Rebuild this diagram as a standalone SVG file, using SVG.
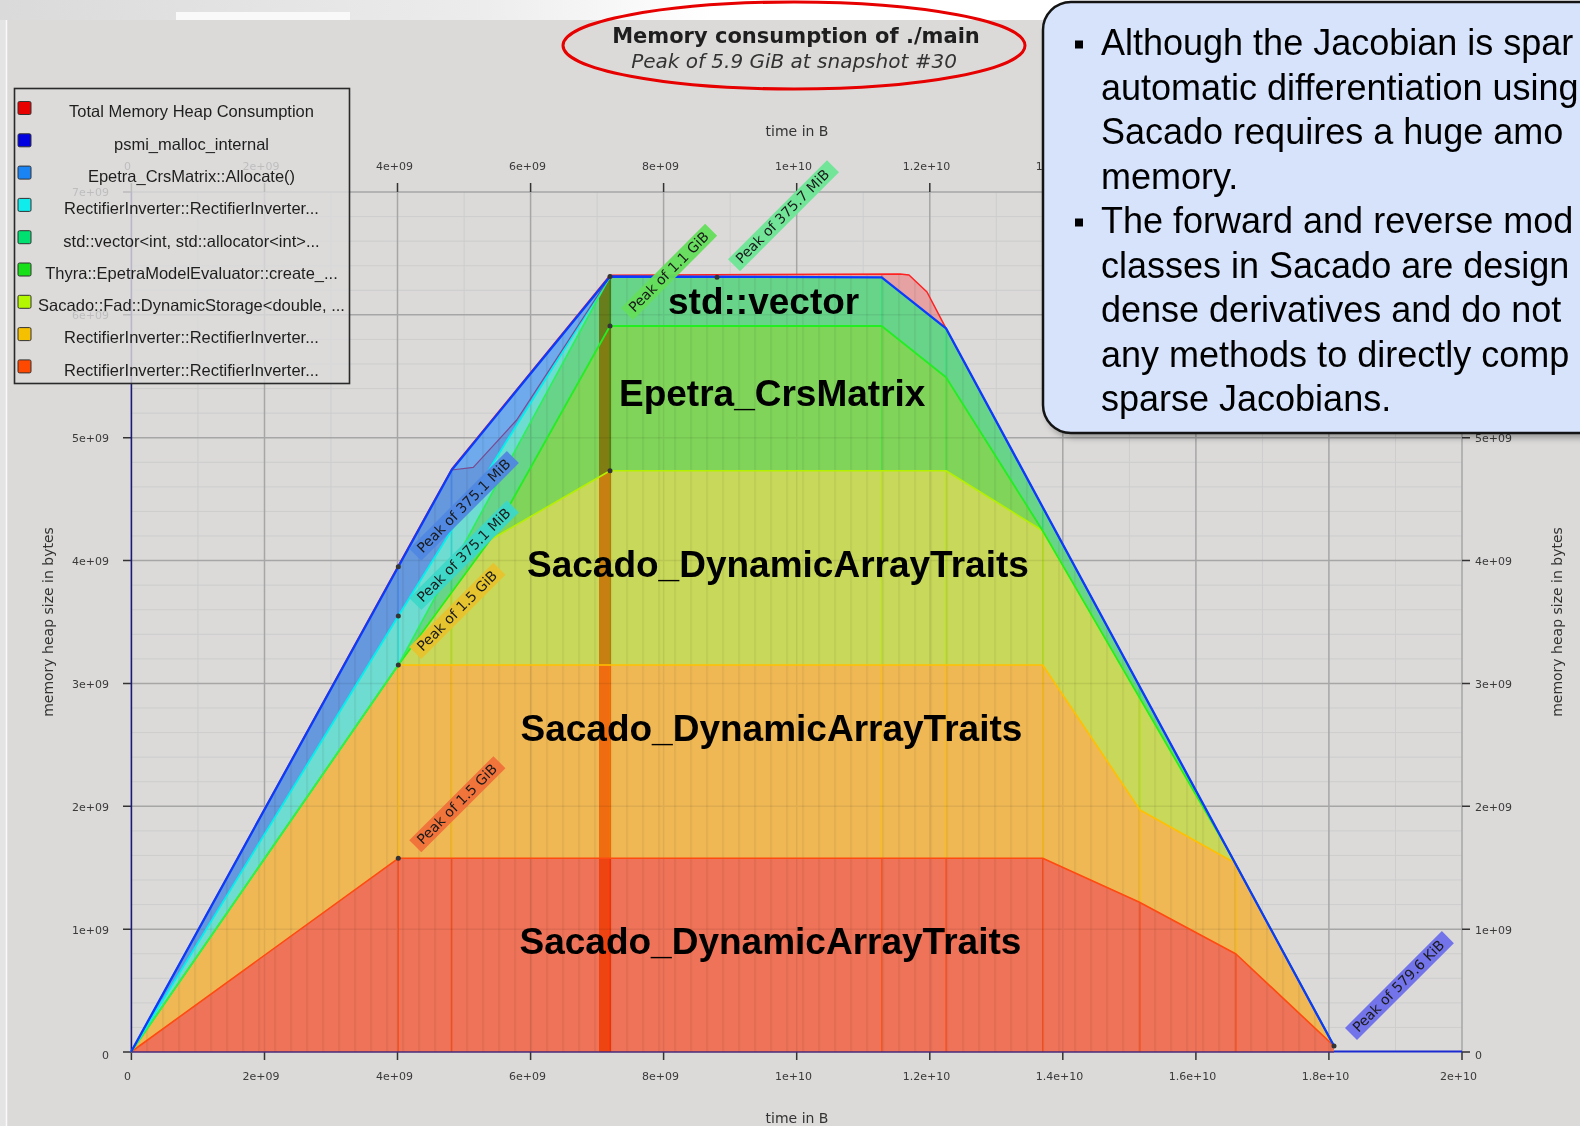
<svg xmlns="http://www.w3.org/2000/svg" xmlns:xlink="http://www.w3.org/1999/xlink" width="1580" height="1126" viewBox="0 0 1580 1126">
<style>
.tl{font-family:'DejaVu Sans',sans-serif;font-size:11px;fill:#3a3a3a}
.tlm{text-anchor:middle}
.tle{text-anchor:end}
.ax{font-family:'DejaVu Sans',sans-serif;font-size:14px;fill:#333}
.lg{font-family:'Liberation Sans',Arial,sans-serif;font-size:16.5px;fill:#1e1e1e;text-anchor:middle}
.big{font-family:'Liberation Sans',Arial,sans-serif;font-weight:bold;font-size:37px;fill:#000}
.pk{font-family:'DejaVu Sans',sans-serif;font-size:14px;fill:#1a1a1a}
.co{font-family:'Liberation Sans',Arial,sans-serif;font-size:36px;fill:#000}
.minor{stroke:#cdcdcd;stroke-width:1;fill:none}
.major{stroke:#a6a6a6;stroke-width:1.5;fill:none}
.tick{stroke:#333;stroke-width:1.5;fill:none}
.ln{fill:none;stroke-linejoin:round}
.sq{stroke:#333;stroke-width:1}
.dot{fill:#333}
</style>
<defs>
<linearGradient id="topg" x1="0" y1="0" x2="1" y2="0">
<stop offset="0" stop-color="#dadada"/>
<stop offset="0.3" stop-color="#ececec"/>
<stop offset="0.45" stop-color="#ffffff"/>
</linearGradient>
<polygon id="a1" points="131,1052 398.3,565.5 451.7,469 610,275.3 900,274 909,275 927,292 946,328.3 1334,1046 1334,1052"/>
<polygon id="a2" points="131,1052 398.3,566.7 451.7,470 610,276.5 881.7,277.3 946,328.3 1334,1046 1334,1052"/>
<polygon id="a3" points="131,1052 398.3,566.7 451.7,470 473.3,467.3 516.7,420 610,276.5 881.7,277.3 946,328.3 1334,1046 1334,1052"/>
<polygon id="a4" points="131,1052 398.3,616 516.7,425 610,276.5 881.7,277.3 946,328.3 1334,1046 1334,1052"/>
<polygon id="a5" points="131,1052 398.3,665 610,276.5 881.7,277.3 946,328.3 1334,1046 1334,1052"/>
<polygon id="a6" points="131,1052 398.3,665 490,540 610,326 881.7,326 946,377.3 1042.7,530.7 1228,850 1334,1046 1334,1052"/>
<polygon id="a7" points="131,1052 398.3,665 490,540 610,470.7 946,470.7 1042.7,530.7 1228,850 1334,1046 1334,1052"/>
<polygon id="a8" points="131,1052 398.3,665 1042.7,665 1140,810 1235,863 1334,1046 1334,1052"/>
<polygon id="a9" points="131,1052 398.3,858.3 1042.7,858.3 1139,902 1236,954 1334,1046 1334,1052"/>
<clipPath id="c1"><use xlink:href="#a1"/></clipPath>
<clipPath id="c2"><use xlink:href="#a2"/></clipPath>
<clipPath id="c3"><use xlink:href="#a3"/></clipPath>
<clipPath id="c4"><use xlink:href="#a4"/></clipPath>
<clipPath id="c5"><use xlink:href="#a5"/></clipPath>
<clipPath id="c6"><use xlink:href="#a6"/></clipPath>
<clipPath id="c7"><use xlink:href="#a7"/></clipPath>
<clipPath id="c8"><use xlink:href="#a8"/></clipPath>
<clipPath id="c9"><use xlink:href="#a9"/></clipPath>
<path id="vl" d="M398.3 192V1052M451.7 192V1052M610 192V1052M881.7 192V1052M946 192V1052M1042.7 192V1052M1140 192V1052M1236 192V1052" fill="none" stroke-width="1.4"/>
<pattern id="stripes" patternUnits="userSpaceOnUse" x="146.25" y="0" width="16" height="20">
<rect x="0" y="0" width="1.5" height="20" fill="#000" fill-opacity="0.07"/>
</pattern>
<filter id="blur" x="-5%" y="-5%" width="110%" height="110%"><feGaussianBlur stdDeviation="3"/></filter>
</defs>

<!-- background -->
<rect x="0" y="0" width="1580" height="1126" fill="#ffffff"/>
<rect x="0" y="0" width="1580" height="20" fill="url(#topg)"/>
<rect x="176" y="12" width="174" height="8" fill="#f9f9f9"/>
<rect x="0" y="20" width="7" height="1106" fill="#e4e4e4"/>
<rect x="7" y="20" width="1573" height="1106" fill="#dbdad9"/>
<line x1="6.5" y1="20" x2="6.5" y2="1126" stroke="#fafafa" stroke-width="1.5"/>

<!-- grid -->
<g id="grid">
<path class="minor" d="M131.4 1027.43H1462M131.4 1002.86H1462M131.4 978.29H1462M131.4 953.71H1462M131.4 904.57H1462M131.4 880H1462M131.4 855.43H1462M131.4 830.86H1462M131.4 781.71H1462M131.4 757.14H1462M131.4 732.57H1462M131.4 708H1462M131.4 658.86H1462M131.4 634.29H1462M131.4 609.71H1462M131.4 585.14H1462M131.4 536H1462M131.4 511.43H1462M131.4 486.86H1462M131.4 462.29H1462M131.4 413.14H1462M131.4 388.57H1462M131.4 364H1462M131.4 339.43H1462M131.4 290.29H1462M131.4 265.71H1462M131.4 241.14H1462M131.4 216.57H1462"/>
<path class="minor" d="M197.9 192V1052M331 192V1052M464.1 192V1052M597.1 192V1052M730.2 192V1052M863.2 192V1052M996.3 192V1052M1129.4 192V1052M1262.4 192V1052M1395.5 192V1052"/>
<path class="major" d="M131.4 929.14H1462M131.4 806.29H1462M131.4 683.43H1462M131.4 560.57H1462M131.4 437.71H1462M131.4 314.86H1462M131.4 192H1462"/>
<path class="major" d="M264.5 192V1052M397.5 192V1052M530.6 192V1052M663.6 192V1052M796.7 192V1052M929.8 192V1052M1062.8 192V1052M1195.9 192V1052M1328.9 192V1052M1462 192V1052"/>
</g>

<!-- axes -->
<g id="axes">
<path class="tick" d="M123 1052H131.4M123 929.14H131.4M123 806.29H131.4M123 683.43H131.4M123 560.57H131.4M123 437.71H131.4M123 314.86H131.4M123 192H131.4"/>
<path class="tick" d="M1462 1052H1470M1462 929.14H1470M1462 806.29H1470M1462 683.43H1470M1462 560.57H1470M1462 437.71H1470"/>
<path class="tick" d="M131.4 1052V1060M264.5 1052V1060M397.5 1052V1060M530.6 1052V1060M663.6 1052V1060M796.7 1052V1060M929.8 1052V1060M1062.8 1052V1060M1195.9 1052V1060M1328.9 1052V1060M1462 1052V1060"/>
<path class="tick" d="M131.4 183V192M264.5 183V192M397.5 183V192M530.6 183V192M663.6 183V192M796.7 183V192M929.8 183V192"/>
<line x1="131.4" y1="192" x2="131.4" y2="1052" stroke="#1a1a78" stroke-width="1.6"/>
<g class="tl tle">
<text x="109" y="1059">0</text>
<text x="109" y="934">1e+09</text>
<text x="109" y="811">2e+09</text>
<text x="109" y="688">3e+09</text>
<text x="109" y="565">4e+09</text>
<text x="109" y="442">5e+09</text>
<text x="109" y="319">6e+09</text>
<text x="109" y="196">7e+09</text>
</g>
<g class="tl">
<text x="1475" y="1059">0</text>
<text x="1475" y="934">1e+09</text>
<text x="1475" y="811">2e+09</text>
<text x="1475" y="688">3e+09</text>
<text x="1475" y="565">4e+09</text>
<text x="1475" y="442">5e+09</text>
</g>
<g class="tl tlm">
<text x="127.5" y="1080">0</text>
<text x="261" y="1080">2e+09</text>
<text x="394.5" y="1080">4e+09</text>
<text x="527.5" y="1080">6e+09</text>
<text x="660.5" y="1080">8e+09</text>
<text x="793.5" y="1080">1e+10</text>
<text x="926.5" y="1080">1.2e+10</text>
<text x="1059.5" y="1080">1.4e+10</text>
<text x="1192.5" y="1080">1.6e+10</text>
<text x="1325.5" y="1080">1.8e+10</text>
<text x="1458.5" y="1080">2e+10</text>
<text x="127.5" y="170">0</text>
<text x="261" y="170">2e+09</text>
<text x="394.5" y="170">4e+09</text>
<text x="527.5" y="170">6e+09</text>
<text x="660.5" y="170">8e+09</text>
<text x="793.5" y="170">1e+10</text>
<text x="926.5" y="170">1.2e+10</text>
<text x="1059.5" y="170">1.4e+10</text>
</g>
<text class="ax" x="797" y="136" text-anchor="middle">time in B</text>
<text class="ax" x="797" y="1123" text-anchor="middle">time in B</text>
<text class="ax" transform="translate(53,622) rotate(-90)" text-anchor="middle">memory heap size in bytes</text>
<text class="ax" transform="translate(1562,622) rotate(-90)" text-anchor="middle">memory heap size in bytes</text>
</g>

<!-- stacked areas -->
<g id="areas">
<use xlink:href="#a1" fill="#e6a2a2"/>
<use xlink:href="#vl" clip-path="url(#c1)" stroke="#ff3030" stroke-opacity="0.5"/>
<use xlink:href="#a2" fill="#6eaaec"/>
<use xlink:href="#vl" clip-path="url(#c2)" stroke="#2040ff" stroke-opacity="0.45"/>
<use xlink:href="#a3" fill="#6598dd"/>
<use xlink:href="#vl" clip-path="url(#c3)" stroke="#3080ff" stroke-opacity="0.5"/>
<use xlink:href="#a4" fill="#6edcd0"/>
<use xlink:href="#vl" clip-path="url(#c4)" stroke="#00e0e0" stroke-opacity="0.6"/>
<use xlink:href="#a5" fill="#68d48a"/>
<use xlink:href="#vl" clip-path="url(#c5)" stroke="#20e070" stroke-opacity="0.6"/>
<use xlink:href="#a6" fill="#80d45a"/>
<use xlink:href="#vl" clip-path="url(#c6)" stroke="#30e030" stroke-opacity="0.6"/>
<use xlink:href="#a7" fill="#c8d85a"/>
<use xlink:href="#vl" clip-path="url(#c7)" stroke="#b0e800" stroke-opacity="0.7"/>
<use xlink:href="#a8" fill="#efb855"/>
<use xlink:href="#vl" clip-path="url(#c8)" stroke="#ffc000" stroke-opacity="0.8"/>
<use xlink:href="#a9" fill="#ee7358"/>
<use xlink:href="#vl" clip-path="url(#c9)" stroke="#ff4a10" stroke-opacity="0.8"/>
<rect x="131" y="192" width="1204" height="860" fill="url(#stripes)" clip-path="url(#c1)"/>
<path d="M131.4 929.14H1462M131.4 806.29H1462M131.4 683.43H1462M131.4 560.57H1462M131.4 437.71H1462M131.4 314.86H1462M264.5 192V1052M397.5 192V1052M530.6 192V1052M663.6 192V1052M796.7 192V1052M929.8 192V1052M1062.8 192V1052M1195.9 192V1052M1328.9 192V1052" stroke="#000" stroke-opacity="0.07" stroke-width="1.5" fill="none" clip-path="url(#c1)"/>
<rect x="599" y="192" width="12" height="860" fill="#ff9632" clip-path="url(#c1)" style="mix-blend-mode:multiply"/>
</g>

<!-- layer boundary lines -->
<g id="lines">
<polyline class="ln" points="131,1052 398.3,858.3 1042.7,858.3 1139,902 1236,954 1334,1046" stroke="#ff4a10" stroke-width="1.6"/>
<polyline class="ln" points="131,1052 398.3,665 1042.7,665 1140,810 1235,863 1334,1046" stroke="#ffc000" stroke-width="1.6"/>
<polyline class="ln" points="131,1052 398.3,665 490,540 610,470.7 946,470.7 1042.7,530.7 1228,850 1334,1046" stroke="#b4f000" stroke-width="1.6"/>
<polyline class="ln" points="131,1052 398.3,665 490,540 610,326 881.7,326 946,377.3 1042.7,530.7 1228,850 1334,1046" stroke="#22ee22" stroke-width="1.8"/>
<polyline class="ln" points="131,1052 398.3,665 610,276.5" stroke="#2cf05a" stroke-width="1.6"/>
<polyline class="ln" points="131,1052 398.3,616 516.7,425 610,276.5" stroke="#00f0f0" stroke-width="1.8"/>
<polyline class="ln" points="451.7,470 473.3,467.3 516.7,420 610,276.5" stroke="#7a4a90" stroke-width="1.2"/>
<polyline class="ln" points="131,1052 398.3,565.5 451.7,469 610,275.3 900,274 909,275 927,292 946,328.3 1334,1046" stroke="#ff2020" stroke-width="1.5"/>
<polyline class="ln" points="131,1052 398.3,566.7 451.7,470 610,276.5 881.7,277.3 946,328.3 1334,1046" stroke="#0a3cff" stroke-width="2.3"/>
<line x1="131.4" y1="1052" x2="1334" y2="1052" stroke="#4a2a78" stroke-width="1.6"/>
<line x1="1334" y1="1051.5" x2="1462" y2="1051.5" stroke="#1a2ad0" stroke-width="2"/>
</g>

<!-- markers -->
<g id="markers">
<circle class="dot" cx="398.3" cy="566.7" r="2.5"/>
<circle class="dot" cx="398.3" cy="616" r="2.5"/>
<circle class="dot" cx="398.3" cy="665" r="2.5"/>
<circle class="dot" cx="398.3" cy="858.3" r="2.5"/>
<circle class="dot" cx="610" cy="276.5" r="2.5"/>
<circle class="dot" cx="610" cy="326" r="2.5"/>
<circle class="dot" cx="610" cy="470.7" r="2.5"/>
<circle class="dot" cx="717" cy="277.3" r="2.5"/>
<circle class="dot" cx="1334" cy="1046" r="2.5"/>
</g>

<!-- area labels -->
<g id="area-labels">
<text class="big" x="668" y="314">std::vector</text>
<text class="big" x="619" y="406">Epetra_CrsMatrix</text>
<text class="big" x="527" y="577">Sacado_DynamicArrayTraits</text>
<text class="big" x="520.5" y="741">Sacado_DynamicArrayTraits</text>
<text class="big" x="519.5" y="954">Sacado_DynamicArrayTraits</text>
</g>

<!-- peak labels -->
<g id="peak-labels">
<g transform="translate(421.3,852.3) rotate(-45)"><rect x="0" y="-17" width="119" height="17" fill="#f0703a" fill-opacity="0.95"/><text class="pk" x="6" y="-4">Peak of 1.5 GiB</text></g>
<g transform="translate(421.3,659) rotate(-45)"><rect x="0" y="-17" width="119" height="17" fill="#e8c32d" fill-opacity="0.95"/><text class="pk" x="6" y="-4">Peak of 1.5 GiB</text></g>
<g transform="translate(421.3,610) rotate(-45)"><rect x="0" y="-17" width="138" height="17" fill="#3cd7c8" fill-opacity="0.95"/><text class="pk" x="6" y="-4">Peak of 375.1 MiB</text></g>
<g transform="translate(421.3,560.7) rotate(-45)"><rect x="0" y="-17" width="138" height="17" fill="#5087e1" fill-opacity="0.95"/><text class="pk" x="6" y="-4">Peak of 375.1 MiB</text></g>
<g transform="translate(633,320) rotate(-45)"><rect x="0" y="-17" width="119" height="17" fill="#64de5a" fill-opacity="0.95"/><text class="pk" x="6" y="-4">Peak of 1.1 GiB</text></g>
<g transform="translate(740,271.3) rotate(-45)"><rect x="0" y="-17" width="140" height="17" fill="#6ee696" fill-opacity="0.95"/><text class="pk" x="6" y="-4">Peak of 375.7 MiB</text></g>
<g transform="translate(1357,1040) rotate(-45)"><rect x="0" y="-17" width="137" height="17" fill="#6e6eeb" fill-opacity="0.95"/><text class="pk" x="6" y="-4">Peak of 579.6 KiB</text></g>
</g>

<!-- legend -->
<g id="legend">
<rect x="14.5" y="88.5" width="335" height="295" fill="#dcdbda" fill-opacity="0.82" stroke="#2a2a2a" stroke-width="1.6"/>
<rect class="sq" x="18" y="101.5" width="13" height="13" rx="1.5" fill="#e80000"/>
<rect class="sq" x="18" y="133.8" width="13" height="13" rx="1.5" fill="#0000e0"/>
<rect class="sq" x="18" y="166.1" width="13" height="13" rx="1.5" fill="#1a84f5"/>
<rect class="sq" x="18" y="198.4" width="13" height="13" rx="1.5" fill="#10ecec"/>
<rect class="sq" x="18" y="230.7" width="13" height="13" rx="1.5" fill="#00e070"/>
<rect class="sq" x="18" y="263" width="13" height="13" rx="1.5" fill="#18e018"/>
<rect class="sq" x="18" y="295.3" width="13" height="13" rx="1.5" fill="#b4f800"/>
<rect class="sq" x="18" y="327.6" width="13" height="13" rx="1.5" fill="#f5c000"/>
<rect class="sq" x="18" y="359.9" width="13" height="13" rx="1.5" fill="#ff4800"/>
<text class="lg" x="191.5" y="117.3">Total Memory Heap Consumption</text>
<text class="lg" x="191.5" y="149.6">psmi_malloc_internal</text>
<text class="lg" x="191.5" y="181.9">Epetra_CrsMatrix::Allocate()</text>
<text class="lg" x="191.5" y="214.2">RectifierInverter::RectifierInverter...</text>
<text class="lg" x="191.5" y="246.5">std::vector&lt;int, std::allocator&lt;int&gt;...</text>
<text class="lg" x="191.5" y="278.8">Thyra::EpetraModelEvaluator::create_...</text>
<text class="lg" x="191.5" y="311.1">Sacado::Fad::DynamicStorage&lt;double, ...</text>
<text class="lg" x="191.5" y="343.4">RectifierInverter::RectifierInverter...</text>
<text class="lg" x="191.5" y="375.7">RectifierInverter::RectifierInverter...</text>
</g>

<!-- title -->
<g id="title">
<text x="796" y="43" text-anchor="middle" font-family="'DejaVu Sans',sans-serif" font-weight="bold" font-size="21" fill="#1e1e1e">Memory consumption of ./main</text>
<text x="794" y="68" text-anchor="middle" font-family="'DejaVu Sans',sans-serif" font-style="italic" font-size="20" fill="#333">Peak of 5.9 GiB at snapshot #30</text>
<ellipse cx="794" cy="45.5" rx="231" ry="43.5" fill="none" stroke="#e60000" stroke-width="3"/>
</g>

<!-- callout -->
<g id="callout">
<rect x="1046" y="7" width="620" height="431" rx="28" fill="#000" fill-opacity="0.3" filter="url(#blur)"/>
<rect x="1043" y="2" width="620" height="431" rx="28" fill="#d6e3fb" stroke="#141414" stroke-width="2.5"/>
<rect x="1075" y="40.5" width="8" height="8" fill="#000"/>
<rect x="1075" y="218.5" width="8" height="8" fill="#000"/>
<text class="co" x="1101" y="55">Although the Jacobian is spar</text>
<text class="co" x="1101" y="99.5">automatic differentiation using</text>
<text class="co" x="1101" y="144">Sacado requires a huge amo</text>
<text class="co" x="1101" y="188.5">memory.</text>
<text class="co" x="1101" y="233">The forward and reverse mod</text>
<text class="co" x="1101" y="277.5">classes in Sacado are design</text>
<text class="co" x="1101" y="322">dense derivatives and do not</text>
<text class="co" x="1101" y="366.5">any methods to directly comp</text>
<text class="co" x="1101" y="411">sparse Jacobians.</text>
</g>
</svg>
